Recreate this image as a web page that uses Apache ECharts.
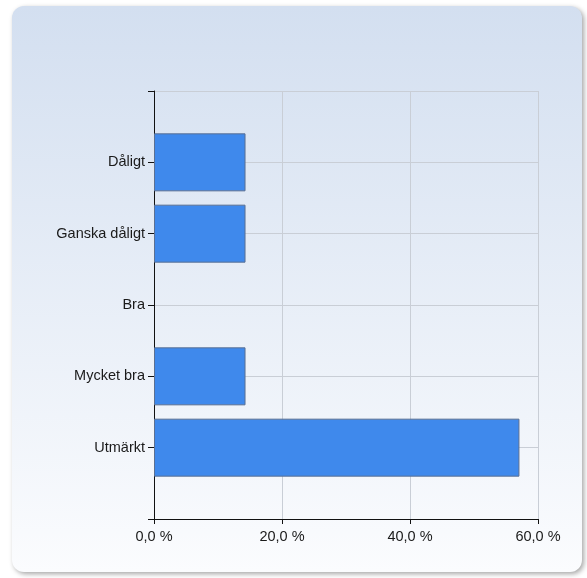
<!DOCTYPE html>
<html>
<head>
<meta charset="utf-8">
<script src="https://cdn.jsdelivr.net/npm/echarts@6/dist/echarts.min.js"></script>
<style>
html,body{margin:0;padding:0;background:#ffffff;}
#chart{width:587px;height:578px;}
</style>
</head>
<body>
<div id="chart"></div>
<script>
// Data
const categories = ['Dåligt', 'Ganska dåligt', 'Bra', 'Mycket bra', 'Utmärkt'];
const percentValues = [14.3, 14.3, 0, 14.3, 57.1];
const xTicks = [0, 20, 40, 60];

// Padding slots above and below so categories sit on grid lines
const axisCats = [''].concat(categories, ['']);
const barData = [null].concat(percentValues.map(function (v) {
  return v === 0 ? {value: v, itemStyle: {borderWidth: 0, opacity: 0}} : v;
}), [null]);

const chart = echarts.init(document.getElementById('chart'), null, {renderer: 'canvas'});
const font = 'Liberation Sans, Arial, sans-serif';

chart.setOption({
  animation: false,
  graphic: [{
    type: 'rect',
    z: -10,
    silent: true,
    shape: {x: 12, y: 6, width: 570, height: 566, r: 12},
    style: {
      fill: new echarts.graphic.LinearGradient(0, 0, 0, 1, [
        {offset: 0, color: '#d3dff0'},
        {offset: 1, color: '#fbfcfe'}
      ]),
      shadowBlur: 5,
      shadowColor: 'rgba(0,0,0,0.35)',
      shadowOffsetX: 2,
      shadowOffsetY: 2
    }
  }],
  grid: {left: 154, top: 91, right: 49, bottom: 59, containLabel: false},
  xAxis: {
    type: 'value',
    min: xTicks[0],
    max: xTicks[xTicks.length - 1],
    interval: xTicks[1] - xTicks[0],
    axisLine: {show: true, lineStyle: {color: '#111', width: 1}},
    axisTick: {show: true, length: 5, lineStyle: {color: '#111'}},
    splitLine: {show: true, lineStyle: {color: '#c9ced6', width: 1}},
    axisLabel: {
      margin: 10,
      color: '#1a1a1a',
      fontFamily: font,
      fontSize: 14.5,
      formatter: function (v) { return v.toFixed(1).replace('.', ',') + ' %'; }
    }
  },
  yAxis: {
    type: 'category',
    data: axisCats,
    inverse: true,
    boundaryGap: false,
    axisLine: {show: true, onZero: false, lineStyle: {color: '#111', width: 1}},
    axisTick: {show: true, length: 6, alignWithLabel: false, interval: 0, lineStyle: {color: '#111'}},
    splitLine: {show: true, interval: 0, lineStyle: {color: '#c9ced6', width: 1}},
    axisLabel: {
      interval: 0,
      margin: 9,
      color: '#1a1a1a',
      fontFamily: font,
      fontSize: 14.5
    }
  },
  series: [{
    type: 'bar',
    data: barData,
    barWidth: 58,
    itemStyle: {color: '#3f89ec', borderColor: '#5a6f92', borderWidth: 1}
  }]
});
</script>
</body>
</html>
